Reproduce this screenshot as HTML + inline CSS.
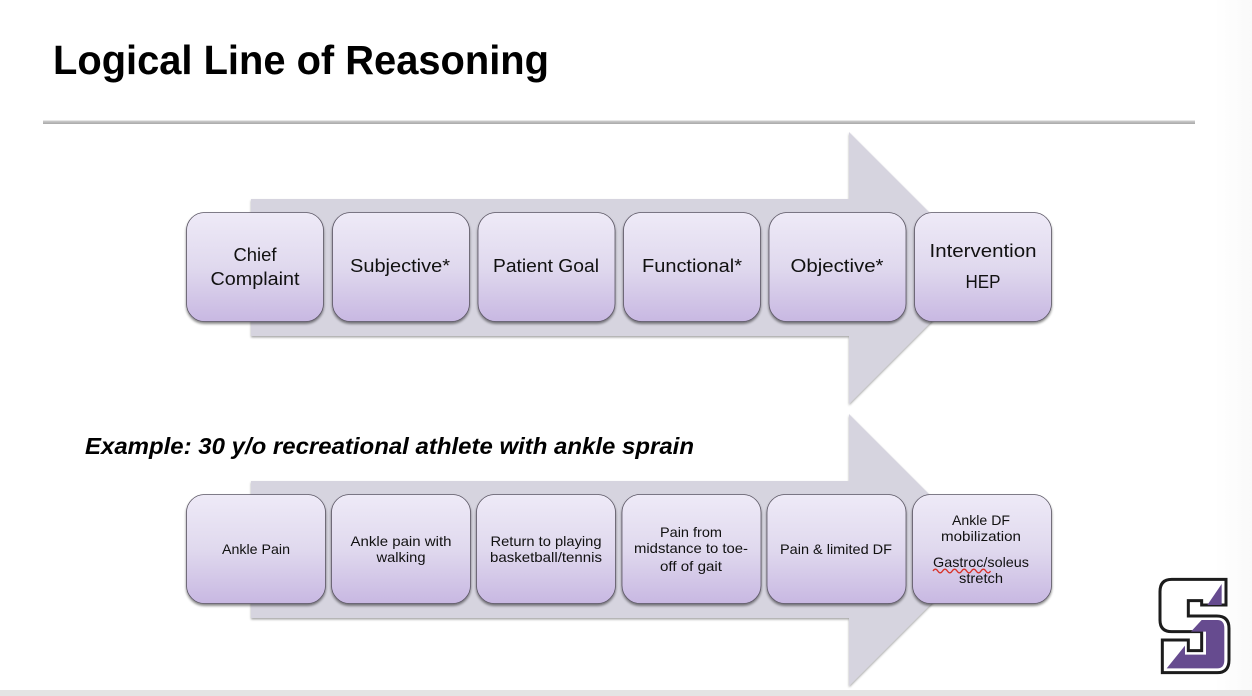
<!DOCTYPE html>
<html><head><meta charset="utf-8"><style>
html,body{margin:0;padding:0;background:#fff;width:1252px;height:696px;overflow:hidden}
svg{display:block}
text{font-family:"Liberation Sans",sans-serif;fill:#111;text-anchor:middle}
.a{font-size:18.5px}
.b{font-size:14px}
</style></head><body>
<svg width="1252" height="696" viewBox="0 0 1252 696" xmlns="http://www.w3.org/2000/svg">
<defs>
<linearGradient id="g" x1="0" y1="0" x2="0" y2="1"><stop offset="0" stop-color="#eeeaf7"/><stop offset="0.5" stop-color="#e0d9ee"/><stop offset="1" stop-color="#c8b8e2"/></linearGradient>
<linearGradient id="edge" x1="0" y1="0" x2="1" y2="0"><stop offset="0" stop-color="#fff"/><stop offset="1" stop-color="#f9f9f9"/></linearGradient>
<linearGradient id="rule" x1="0" y1="0" x2="0" y2="1"><stop offset="0" stop-color="#d0d0d0"/><stop offset="1" stop-color="#a8a8a8"/></linearGradient>
<filter id="s" x="-10%" y="-10%" width="120%" height="125%"><feDropShadow dx="0" dy="2" stdDeviation="1.3" flood-color="#000" flood-opacity="0.48"/></filter>
<filter id="t" x="-5%" y="-5%" width="110%" height="110%"><feDropShadow dx="0" dy="1.5" stdDeviation="1" flood-color="#000" flood-opacity="0.35"/></filter>
</defs>
<rect x="1215" y="0" width="37" height="696" fill="url(#edge)"/>
<rect x="0" y="690" width="1252" height="6" fill="#e4e4e4"/>
<rect x="43" y="120.5" width="1152" height="3.5" fill="url(#rule)"/>
<text x="53" y="74" text-anchor="start" style="text-anchor:start;font-weight:bold;font-size:41px;fill:#000" textLength="496" lengthAdjust="spacingAndGlyphs">Logical Line of Reasoning</text>

<polygon points="251,199 849,199 849,132 985,268 849,404 849,336 251,336" fill="#d6d4df" filter="url(#t)"/>
<g fill="url(#g)" stroke="#5a5563" stroke-width="0.8" filter="url(#s)">
<rect x="186.5" y="212.5" width="137" height="109" rx="18"/>
<rect x="332.5" y="212.5" width="137" height="109" rx="18"/>
<rect x="478" y="212.5" width="137" height="109" rx="18"/>
<rect x="623.5" y="212.5" width="137" height="109" rx="18"/>
<rect x="769" y="212.5" width="137" height="109" rx="18"/>
<rect x="914.5" y="212.5" width="137" height="109" rx="18"/>
</g>
<g class="a">
<text class="a" x="255" y="261" textLength="43" lengthAdjust="spacingAndGlyphs">Chief</text>
<text class="a" x="255" y="285" textLength="89" lengthAdjust="spacingAndGlyphs">Complaint</text>
<text class="a" x="400" y="272" textLength="100" lengthAdjust="spacingAndGlyphs">Subjective*</text>
<text class="a" x="546" y="272" textLength="106" lengthAdjust="spacingAndGlyphs">Patient Goal</text>
<text class="a" x="692" y="272" textLength="100" lengthAdjust="spacingAndGlyphs">Functional*</text>
<text class="a" x="837" y="272" textLength="93" lengthAdjust="spacingAndGlyphs">Objective*</text>
<text class="a" x="983" y="257" textLength="107" lengthAdjust="spacingAndGlyphs">Intervention</text>
<text class="a" x="983" y="288" textLength="35" lengthAdjust="spacingAndGlyphs">HEP</text>
</g>

<polygon points="251,481 849,481 849,414 985,550 849,686 849,618 251,618" fill="#d6d4df" filter="url(#t)"/>
<text x="85" y="454" style="text-anchor:start;font-weight:bold;font-style:italic;font-size:23px;fill:#000" textLength="609" lengthAdjust="spacingAndGlyphs">Example: 30 y/o recreational athlete with ankle sprain</text>
<g fill="url(#g)" stroke="#5a5563" stroke-width="0.8" filter="url(#s)">
<rect x="186.5" y="494.5" width="139" height="109" rx="18"/>
<rect x="331.5" y="494.5" width="139" height="109" rx="18"/>
<rect x="476.5" y="494.5" width="139" height="109" rx="18"/>
<rect x="622" y="494.5" width="139" height="109" rx="18"/>
<rect x="767" y="494.5" width="139" height="109" rx="18"/>
<rect x="912.5" y="494.5" width="139" height="109" rx="18"/>
</g>
<text class="b" x="256" y="554" textLength="68" lengthAdjust="spacingAndGlyphs">Ankle Pain</text>
<text class="b" x="401" y="546" textLength="101" lengthAdjust="spacingAndGlyphs">Ankle pain with</text>
<text class="b" x="401" y="562" textLength="49" lengthAdjust="spacingAndGlyphs">walking</text>
<text class="b" x="546" y="546" textLength="111" lengthAdjust="spacingAndGlyphs">Return to playing</text>
<text class="b" x="546" y="562" textLength="112" lengthAdjust="spacingAndGlyphs">basketball/tennis</text>
<text class="b" x="691" y="537" textLength="62" lengthAdjust="spacingAndGlyphs">Pain from</text>
<text class="b" x="691" y="553" textLength="114" lengthAdjust="spacingAndGlyphs">midstance to toe-</text>
<text class="b" x="691" y="571" textLength="62" lengthAdjust="spacingAndGlyphs">off of gait</text>
<text class="b" x="836" y="554" textLength="112" lengthAdjust="spacingAndGlyphs">Pain &amp; limited DF</text>
<text class="b" x="981" y="525" textLength="58" lengthAdjust="spacingAndGlyphs">Ankle DF</text>
<text class="b" x="981" y="541" textLength="80" lengthAdjust="spacingAndGlyphs">mobilization</text>
<text class="b" x="981" y="567" textLength="96" lengthAdjust="spacingAndGlyphs">Gastroc/soleus</text>
<text class="b" x="981" y="583" textLength="44" lengthAdjust="spacingAndGlyphs">stretch</text>
<path d="M933,571 q2.4,-3.6 4.8,0 t4.8,0 t4.8,0 t4.8,0 t4.8,0 t4.8,0 t4.8,0 t4.8,0 t4.8,0 t4.8,0 t4.8,0 t4.8,0" fill="none" stroke="#d8322a" stroke-width="1.3"/>

<g transform="translate(1130,560) scale(0.3333)">
<path d="M125,58 H288 V135 H215 V122 H175 V168 H260 Q297,168 297,205 V300 Q297,338 262,338 H97 V240 H175 V272 H215 V215 H125 Q90,215 90,180 V95 Q90,58 125,58 Z" fill="#fff" stroke="#1c1c1c" stroke-width="9"/>
<polygon points="275,72 275,135 232,135" fill="#664b8f"/>
<path d="M110,325 L165,257 V284 H228 V215 H183 L215,180 H262 Q283,180 283,205 V300 Q283,325 262,325 Z" fill="#664b8f"/>
</g>
</svg>
</body></html>
